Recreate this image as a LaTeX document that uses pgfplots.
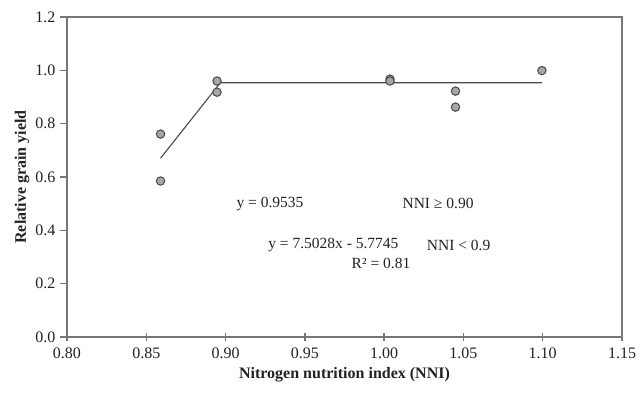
\documentclass[border=0pt]{standalone}
\usepackage{pgfplots}
\pgfplotsset{compat=1.18}
\usepackage{fontspec}
\setmainfont{Liberation Serif}
\definecolor{axgray}{HTML}{767676}
\definecolor{mkfill}{HTML}{A6A6A6}
\definecolor{mkedge}{HTML}{484848}
\definecolor{lngray}{HTML}{4A4A4A}
\definecolor{txt}{HTML}{222222}
\begin{document}
\begin{tikzpicture}
\begin{axis}[
  scale only axis, width=555pt, height=320pt,
  xmin=0.8, xmax=1.15, ymin=0, ymax=1.2,
  xtick={0.8,0.85,0.9,0.95,1.0,1.05,1.1,1.15},
  ytick={0,0.2,0.4,0.6,0.8,1.0,1.2},
  tick pos=left,
  tick align=center,
  major tick length=8pt,
  ytick style={xshift=-3pt},
  axis line style={axgray, line width=1.5pt},
  every tick/.style={axgray, line width=1.3pt},
  /pgf/number format/assume math mode=true,
  xticklabel style={/pgf/number format/fixed,/pgf/number format/fixed zerofill,/pgf/number format/precision=2, yshift=-3pt},
  yticklabel style={/pgf/number format/fixed,/pgf/number format/fixed zerofill,/pgf/number format/precision=1, xshift=-4pt},
  tick label style={font=\fontsize{16}{18}\selectfont, text=txt},
  every axis x label/.style={at={(axis description cs:0.5,-0.119)},anchor=center},
  every axis y label/.style={at={(axis description cs:-0.081,0.5)},anchor=center,rotate=90},
  label style={font=\fontsize{16}{18}\selectfont\bfseries, text=txt},
  xlabel={Nitrogen nutrition index (NNI)},
  ylabel={Relative grain yield},
  clip=false,
]
\coordinate (bl) at (rel axis cs:0,0);
\coordinate (tr) at (rel axis cs:1,1);
\addplot[lngray, line width=1.1pt] coordinates {(0.859,0.6704) (0.8967,0.9535) (1.0995,0.9535)};
\addplot[only marks, mark=*, mark size=4.2pt, mark options={fill=mkfill, draw=mkedge, line width=1pt}] coordinates {
(0.859,0.761) (0.859,0.585) (0.8946,0.960) (0.8946,0.918) (1.0037,0.967) (1.0037,0.960) (1.045,0.922) (1.045,0.862) (1.0995,0.999)};
\node[font=\fontsize{15.5}{17}\selectfont, text=txt] at (axis cs:0.928,0.499) {y = 0.9535};
\node[font=\fontsize{15.5}{17}\selectfont, text=txt] at (axis cs:1.034,0.499) {NNI ≥ 0.90};
\node[font=\fontsize{15.5}{17}\selectfont, text=txt] at (axis cs:0.968,0.345) {y = 7.5028x - 5.7745};
\node[font=\fontsize{15.5}{17}\selectfont, text=txt] at (axis cs:1.047,0.345) {NNI < 0.9};
\node[font=\fontsize{15.5}{17}\selectfont, text=txt] at (axis cs:0.998,0.274) {R² = 0.81};
\end{axis}
\pgfresetboundingbox
\path ([xshift=-67pt,yshift=-56pt]bl) rectangle ([xshift=18pt,yshift=17pt]tr);
\end{tikzpicture}
\end{document}
